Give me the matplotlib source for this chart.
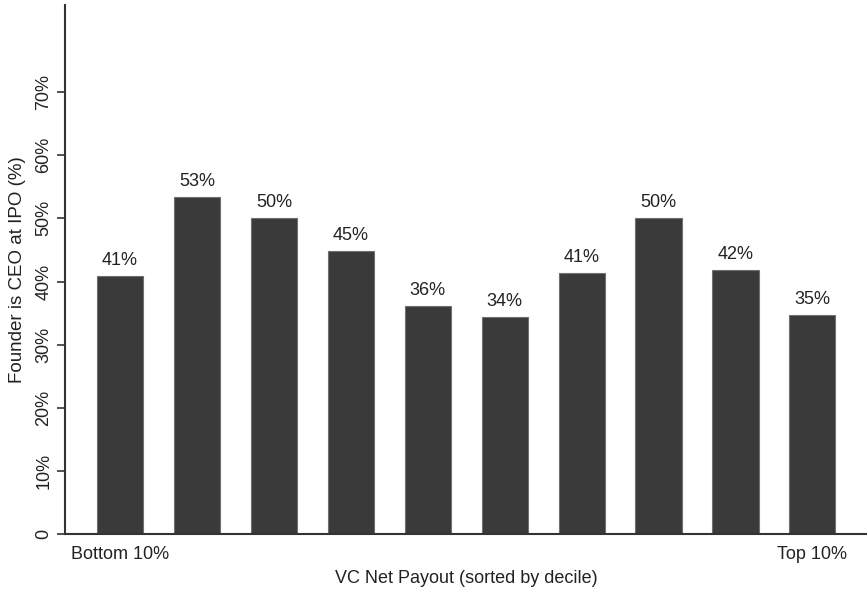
import matplotlib.pyplot as plt
from matplotlib.ticker import FuncFormatter

plt.rcParams['font.family'] = ['Liberation Sans', 'DejaVu Sans']

# share of IPOs where the founder is still CEO, by VC net payout decile
DECILES = list(range(10))
FOUNDER_CEO = [40.9, 53.4, 50.1, 44.9, 36.2, 34.4, 41.4, 50.1, 41.9, 34.7]
XTICK_POS = [0, 9]
XTICK_LABELS = ['Bottom 10%', 'Top 10%']
YTICKS = [0, 10, 20, 30, 40, 50, 60, 70]

FS = 13

fig = plt.figure(figsize=(8.67, 5.89), dpi=100)
ax = fig.add_axes([0.075, 0.0934, 0.925, 0.898])

bars = ax.bar(DECILES, FOUNDER_CEO, width=0.6, color='#3a3a3a',
              edgecolor='#707070', linewidth=0.8, zorder=2)

for x, v in zip(DECILES, FOUNDER_CEO):
    ax.annotate('{:.0f}%'.format(v), xy=(x, v), xytext=(0, 4.8),
                textcoords='offset points', ha='center', va='bottom',
                fontsize=FS, color='#222222')

ax.set_xlim(-0.715, 9.71)
ax.set_ylim(0, 83.8)

ax.set_yticks(YTICKS)
ax.yaxis.set_major_formatter(FuncFormatter(lambda v, p: '0' if v == 0 else '{:.0f}%'.format(v)))
plt.setp(ax.get_yticklabels(), rotation=90, va='center')
ax.tick_params(axis='y', length=6, width=1.2, color='#333333', labelsize=FS,
               labelcolor='#222222', pad=3)

ax.set_xticks(XTICK_POS)
ax.set_xticklabels(XTICK_LABELS)
ax.tick_params(axis='x', length=0, labelsize=FS, labelcolor='#222222', pad=9)

ax.set_xlabel('VC Net Payout (sorted by decile)', fontsize=FS, color='#222222', labelpad=5)
ax.set_ylabel('Founder is CEO at IPO (%)', fontsize=13.5, color='#222222', labelpad=7)

for side in ('top', 'right'):
    ax.spines[side].set_visible(False)
for side in ('left', 'bottom'):
    ax.spines[side].set_color('#333333')
    ax.spines[side].set_linewidth(1.5)

fig.savefig('out.png', dpi=100, facecolor='white')
